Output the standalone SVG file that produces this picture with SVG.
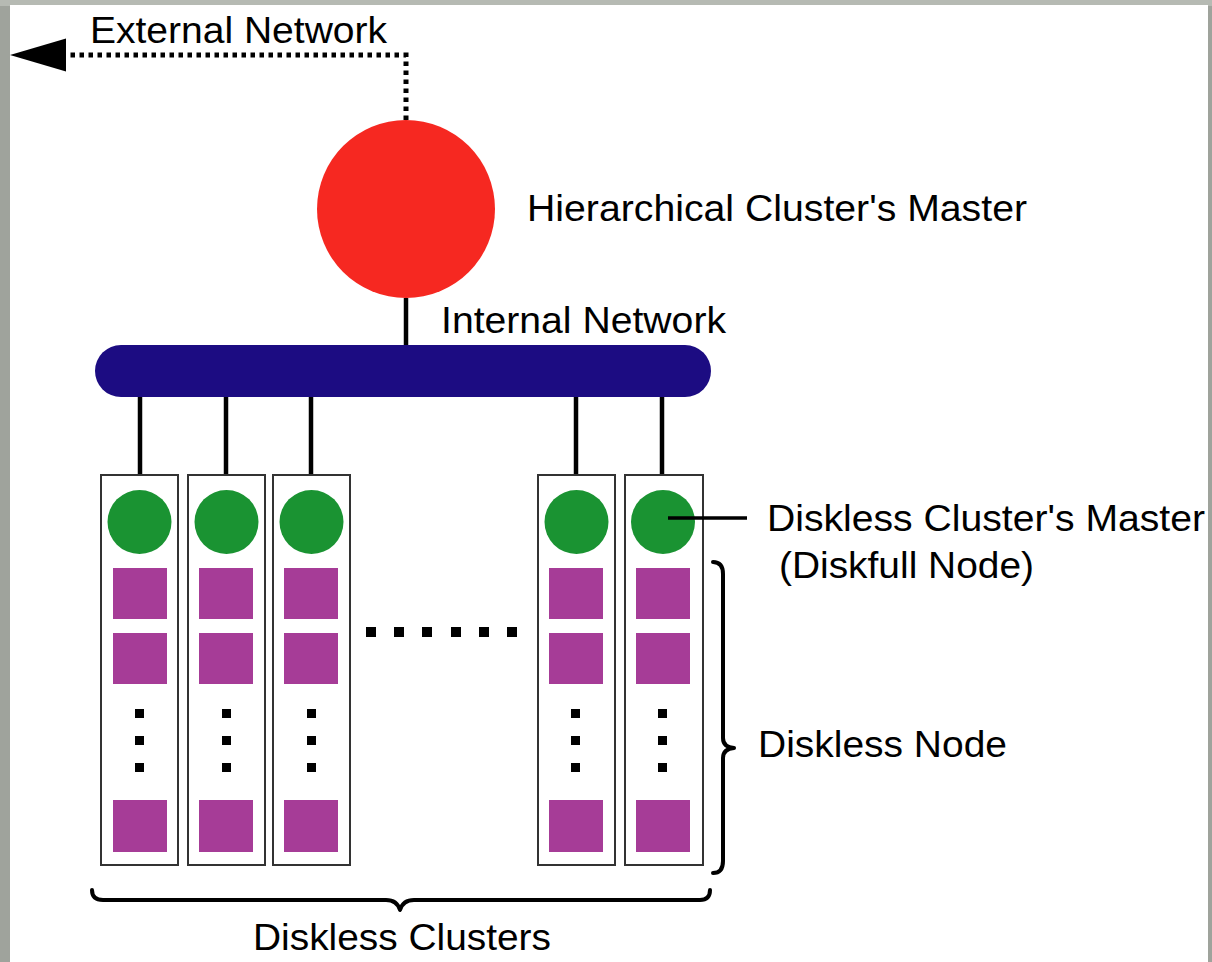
<svg xmlns="http://www.w3.org/2000/svg" width="1212" height="962" viewBox="0 0 1212 962">
<defs>
<style>
.t{font-family:"Liberation Sans",Arial,sans-serif;font-size:37px;fill:#000}
.box{fill:#fff;stroke:#333;stroke-width:2}
.g{fill:#1a9332}
.m{fill:#a63c97}
.d{fill:#000}
.ln{stroke:#000;stroke-width:4.5;fill:none}
.dot{stroke:#000;stroke-width:5;fill:none;stroke-dasharray:4.5 4.5}
.br{stroke:#000;stroke-width:4;fill:none;stroke-linecap:round;stroke-linejoin:round}
</style>
</defs>
<rect x="0" y="0" width="1212" height="962" fill="#9fa39c"/>
<rect x="0" y="0" width="1212" height="6" fill="#b6bab3"/>
<rect x="10" y="5" width="1198" height="957" fill="#fff"/>

<g id="connectors">
<path class="dot" d="M406,120 L406,55 L66,55"/>
<path d="M66,38.5 L10,55 L66,71.5 Z" fill="#000"/>
<line class="ln" x1="406" y1="298" x2="406" y2="346"/>
<line class="ln" x1="140" y1="396" x2="140" y2="475"/>
<line class="ln" x1="226" y1="396" x2="226" y2="475"/>
<line class="ln" x1="311" y1="396" x2="311" y2="475"/>
<line class="ln" x1="576" y1="396" x2="576" y2="475"/>
<line class="ln" x1="662" y1="396" x2="662" y2="475"/>
</g>

<g id="external-network-label">
<text class="t" x="90" y="43" textLength="297" lengthAdjust="spacingAndGlyphs">External Network</text>
</g>

<g id="hierarchical-master">
<circle cx="406" cy="209" r="89" fill="#f62821"/>
<text class="t" x="527" y="221" textLength="500" lengthAdjust="spacingAndGlyphs">Hierarchical Cluster's Master</text>
</g>

<g id="internal-network">
<rect x="95" y="345" width="616" height="52" rx="26" ry="26" fill="#1c0c82"/>
<text class="t" x="441" y="333" textLength="285" lengthAdjust="spacingAndGlyphs">Internal Network</text>
</g>

<g id="cluster1">
<rect class="box" x="101" y="475" width="77" height="390"/>
<circle class="g" cx="139.5" cy="522" r="32"/>
<rect class="m" x="113" y="568" width="54" height="51"/>
<rect class="m" x="113" y="633" width="54" height="51"/>
<rect class="d" x="135" y="709" width="9" height="9"/>
<rect class="d" x="135" y="736" width="9" height="9"/>
<rect class="d" x="135" y="763" width="9" height="9"/>
<rect class="m" x="113" y="800" width="54" height="52"/>
</g>
<g id="cluster2">
<rect class="box" x="188" y="475" width="77" height="390"/>
<circle class="g" cx="226.5" cy="522" r="32"/>
<rect class="m" x="199" y="568" width="54" height="51"/>
<rect class="m" x="199" y="633" width="54" height="51"/>
<rect class="d" x="222" y="709" width="9" height="9"/>
<rect class="d" x="222" y="736" width="9" height="9"/>
<rect class="d" x="222" y="763" width="9" height="9"/>
<rect class="m" x="199" y="800" width="54" height="52"/>
</g>
<g id="cluster3">
<rect class="box" x="273" y="475" width="77" height="390"/>
<circle class="g" cx="311.5" cy="522" r="32"/>
<rect class="m" x="284" y="568" width="54" height="51"/>
<rect class="m" x="284" y="633" width="54" height="51"/>
<rect class="d" x="307" y="709" width="9" height="9"/>
<rect class="d" x="307" y="736" width="9" height="9"/>
<rect class="d" x="307" y="763" width="9" height="9"/>
<rect class="m" x="284" y="800" width="54" height="52"/>
</g>
<g id="cluster4">
<rect class="box" x="538" y="475" width="77" height="390"/>
<circle class="g" cx="576.5" cy="522" r="32"/>
<rect class="m" x="549" y="568" width="54" height="51"/>
<rect class="m" x="549" y="633" width="54" height="51"/>
<rect class="d" x="571" y="709" width="9" height="9"/>
<rect class="d" x="571" y="736" width="9" height="9"/>
<rect class="d" x="571" y="763" width="9" height="9"/>
<rect class="m" x="549" y="800" width="54" height="52"/>
</g>
<g id="cluster5">
<rect class="box" x="625" y="475" width="78" height="390"/>
<circle class="g" cx="663" cy="522" r="32"/>
<rect class="m" x="636" y="568" width="54" height="51"/>
<rect class="m" x="636" y="633" width="54" height="51"/>
<rect class="d" x="658" y="709" width="9" height="9"/>
<rect class="d" x="658" y="736" width="9" height="9"/>
<rect class="d" x="658" y="763" width="9" height="9"/>
<rect class="m" x="636" y="800" width="54" height="52"/>
</g>

<g id="ellipsis">
<rect class="d" x="366" y="627" width="10" height="10"/>
<rect class="d" x="394" y="627" width="10" height="10"/>
<rect class="d" x="422" y="627" width="10" height="10"/>
<rect class="d" x="451" y="627" width="10" height="10"/>
<rect class="d" x="479" y="627" width="10" height="10"/>
<rect class="d" x="507" y="627" width="10" height="10"/>
</g>

<g id="diskless-master-label">
<line x1="668" y1="518" x2="747" y2="518" stroke="#000" stroke-width="3.5"/>
<text class="t" x="767" y="531" textLength="438" lengthAdjust="spacingAndGlyphs">Diskless Cluster's Master</text>
<text class="t" x="779" y="578" textLength="255" lengthAdjust="spacingAndGlyphs">(Diskfull Node)</text>
</g>

<g id="diskless-node-label">
<path class="br" d="M713,562 Q723,562 723,574 L723,738 Q723,747 734,748 Q723,749 723,758 L723,861 Q723,873 713,873"/>
<text class="t" x="758" y="757" textLength="249" lengthAdjust="spacingAndGlyphs">Diskless Node</text>
</g>

<g id="diskless-clusters-label">
<path class="br" d="M92,890 Q92,900 103,900 L386,900 Q397,900 400,910 Q403,900 414,900 L700,900 Q710,900 710,890"/>
<text class="t" x="253" y="950" textLength="298" lengthAdjust="spacingAndGlyphs">Diskless Clusters</text>
</g>
</svg>
